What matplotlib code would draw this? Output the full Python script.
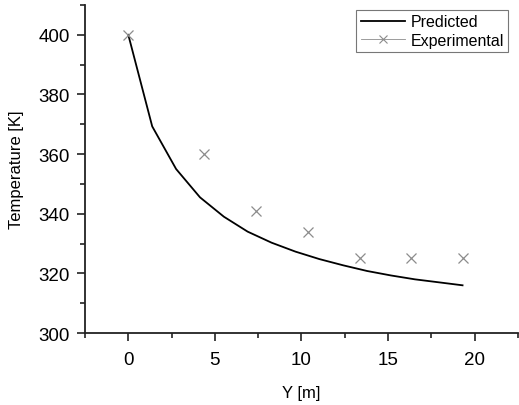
import matplotlib
matplotlib.use("Agg")
import matplotlib.pyplot as plt
from matplotlib.lines import Line2D
from matplotlib.ticker import MultipleLocator

plt.rcParams["font.family"] = ["Liberation Sans", "DejaVu Sans"]

# predicted model profile
y_pred = [0.0, 1.38, 2.76, 4.14, 5.52, 6.89, 8.27, 9.65, 11.03, 12.41,
          13.79, 15.17, 16.55, 17.93, 19.3]
t_pred = [400.0, 369.3, 355.0, 345.5, 339.0, 334.0, 330.3, 327.3, 324.8, 322.7,
          320.8, 319.3, 318.0, 317.0, 316.0]

# experimental measurements
y_exp = [0.0, 4.35, 7.35, 10.35, 13.35, 16.35, 19.35]
t_exp = [400, 360, 341, 334, 325, 325, 325]

fig = plt.figure(figsize=(5.19, 4.06), dpi=100)
ax = fig.add_axes([0.1638, 0.1773, 0.8342, 0.8079])

ax.plot(y_pred, t_pred, color="black", lw=1.3)
ax.plot(y_exp, t_exp, ls="none", marker="x", ms=7, mew=0.9, color="#8c8c8c")

ax.set_xlim(-2.5, 22.5)
ax.set_ylim(300, 410)
ax.xaxis.set_major_locator(MultipleLocator(5))
ax.xaxis.set_minor_locator(MultipleLocator(2.5))
ax.yaxis.set_major_locator(MultipleLocator(20))
ax.yaxis.set_minor_locator(MultipleLocator(10))

for side in ["top", "right"]:
    ax.spines[side].set_visible(False)
for side in ["left", "bottom"]:
    ax.spines[side].set_linewidth(1.3)
    ax.spines[side].set_color("#222222")

ax.tick_params(which="major", direction="out", length=6, width=1.2, labelsize=13.5, color="#222222")
ax.tick_params(which="minor", direction="out", length=3.5, width=1.2, color="#222222")
ax.tick_params(axis="x", pad=7)
ax.tick_params(axis="y", pad=5)

ax.set_xlabel("Y [m]", fontsize=12, labelpad=12)
ax.set_ylabel("Temperature [K]", fontsize=12, labelpad=10)

handles = [
    Line2D([], [], color="black", lw=1.3),
    Line2D([], [], color="#8c8c8c", lw=0.6, marker="x", ms=6, mew=0.8),
]
leg = ax.legend(handles, ["Predicted", "Experimental"], loc="upper right",
                bbox_to_anchor=(0.978, 0.986), fontsize=11.5, fancybox=False,
                framealpha=1, edgecolor="#777777", handlelength=2.8,
                handletextpad=0.3, borderpad=0.3, labelspacing=0.2,
                borderaxespad=0)
leg.get_frame().set_linewidth(0.8)

fig.savefig("out.png", dpi=100)
